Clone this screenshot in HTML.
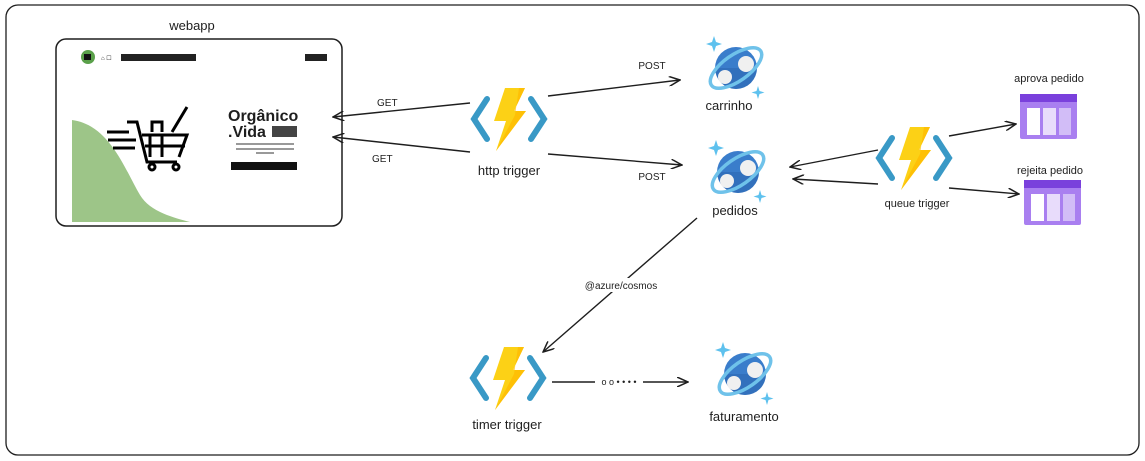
<!DOCTYPE html>
<html><head><meta charset="utf-8"><style>
html,body{margin:0;padding:0;background:#fff;width:1145px;height:461px;overflow:hidden}
svg{display:block}
text{font-family:"Liberation Sans",sans-serif;fill:#1e1e1e}
</style></head><body>
<svg width="1145" height="461" viewBox="0 0 1145 461">
<defs>
<marker id="ah" markerWidth="12" markerHeight="10" refX="11" refY="5" orient="auto" markerUnits="userSpaceOnUse">
<path d="M0,0 L11,5 L0,10" fill="none" stroke="#1e1e1e" stroke-width="1.5"/></marker>
<g id="fn">
<path d="M-22,-20 L-35,0 L-22,20" fill="none" stroke="#3999c6" stroke-width="6" stroke-linecap="round"/>
<path d="M22,-20 L35,0 L22,20" fill="none" stroke="#3999c6" stroke-width="6" stroke-linecap="round"/>
<path d="M-4,-31 L16,-31 L5,-8 L17,-8 L-13,32 L-3,2 L-15,2 Z" fill="#fcd116"/>
<path d="M10,-31 L16,-31 L5,-8 L17,-8 L-13,32 L6,-4 Z" fill="#ffb900" opacity="0.7"/>
</g>
<g id="cos">
<circle cx="0" cy="0" r="21" fill="#3a7dcb"/>
<path d="M-21,0 A21,21 0 0 0 21,0 Z" fill="#2a64ad" opacity="0.5"/>
<circle cx="10" cy="-4" r="8" fill="#f0f0f0"/>
<circle cx="-11" cy="9" r="7" fill="#f0f0f0"/>
<ellipse cx="0" cy="0" rx="30" ry="13" transform="rotate(-35)" fill="none" stroke="#6fc2ea" stroke-width="3.5"/>
<path d="M-22,-32 l2,6 6,2 -6,2 -2,6 -2,-6 -6,-2 6,-2z" fill="#5ec1ee"/>
<path d="M22,18 l1.5,5 5,1.5 -5,1.5 -1.5,5 -1.5,-5 -5,-1.5 5,-1.5z" fill="#5ec1ee"/>
</g>
<g id="q">
<rect x="0" y="0" width="57" height="45" rx="2" fill="#a97ff0"/>
<rect x="0" y="0" width="57" height="8" fill="#7a40dc"/>
<rect x="7" y="14" width="13" height="27" fill="#fff"/>
<rect x="23" y="14" width="13" height="27" fill="#e8dcfb"/>
<rect x="39" y="14" width="12" height="27" fill="#d2bdf7"/>
</g>
</defs>
<rect x="6" y="5" width="1133" height="450" rx="12" fill="none" stroke="#1e1e1e" stroke-width="1.3"/>

<text x="192" y="30" font-size="13" text-anchor="middle">webapp</text>
<rect x="56" y="39" width="286" height="187" rx="10" fill="#fff" stroke="#1e1e1e" stroke-width="1.5"/>
<path d="M72,120 C110,125 125,170 140,195 C150,212 175,218 190,222 L72,222 Z" fill="#9dc588"/>
<circle cx="88" cy="57" r="7" fill="#5aa04a"/><rect x="84" y="54" width="7" height="6" fill="#111"/>
<rect x="121" y="54" width="75" height="7" fill="#222"/>
<rect x="305" y="54" width="22" height="7" fill="#222"/>
<text x="101" y="60" font-size="6">⌂ ☐</text>
<g fill="none" stroke="#000" stroke-width="3">
<path d="M107,132 h22 M108,140 h28 M113,148 h22"/>
<path d="M127,122 h10 l10,40 h30 M142,135 h45 l-8,22 M150,135 v22 M162,135 v22 M145,146 h40"/>
<circle cx="152" cy="167" r="3"/><circle cx="176" cy="167" r="3"/>
<path d="M152,132 v-10 h10 v10 M172,132 l15,-25"/>
</g>
<text x="228" y="121" font-size="16" font-weight="bold" fill="#000">Orgânico</text>
<text x="228" y="137" font-size="16" font-weight="bold" fill="#000">.Vida</text>
<rect x="272" y="126" width="25" height="11" fill="#444"/>
<rect x="236" y="143" width="58" height="2" fill="#999"/><rect x="236" y="148" width="58" height="2" fill="#999"/><rect x="256" y="152" width="18" height="2" fill="#999"/>
<rect x="231" y="162" width="66" height="8" fill="#111"/>

<g stroke="#1e1e1e" stroke-width="1.4" fill="none">
<path d="M470,103 L333,117" marker-end="url(#ah)"/>
<path d="M470,152 L333,137" marker-end="url(#ah)"/>
<path d="M548,96 L680,80" marker-end="url(#ah)"/>
<path d="M548,154 L682,165" marker-end="url(#ah)"/>
<path d="M878,150 L790,167" marker-end="url(#ah)"/>
<path d="M878,184 L793,179" marker-end="url(#ah)"/>
<path d="M949,136 L1016,124" marker-end="url(#ah)"/>
<path d="M949,188 L1019,194" marker-end="url(#ah)"/>
<path d="M697,218 L543,352" marker-end="url(#ah)"/>
<path d="M552,382 L595,382 M643,382 L688,382" marker-end="url(#ah)"/>
</g>
<text x="377" y="106" font-size="10">GET</text>
<text x="372" y="162" font-size="10">GET</text>
<text x="652" y="69" font-size="10" text-anchor="middle">POST</text>
<text x="652" y="180" font-size="10" text-anchor="middle">POST</text>
<rect x="578" y="278" width="86" height="14" fill="#fff"/>
<text x="621" y="289" font-size="10" text-anchor="middle">@azure/cosmos</text>
<text x="619" y="385" font-size="9" text-anchor="middle">o o • • • •</text>

<use href="#fn" x="509" y="119"/>
<use href="#fn" x="914" y="158"/>
<use href="#fn" x="508" y="378"/>
<use href="#cos" x="736" y="68"/>
<use href="#cos" x="738" y="172"/>
<use href="#cos" x="745" y="374"/>
<use href="#q" x="1020" y="94"/>
<use href="#q" x="1024" y="180"/>

<text x="509" y="175" font-size="13" text-anchor="middle">http trigger</text>
<text x="917" y="207" font-size="11" text-anchor="middle">queue trigger</text>
<text x="507" y="429" font-size="13" text-anchor="middle">timer trigger</text>
<text x="729" y="110" font-size="13" text-anchor="middle">carrinho</text>
<text x="735" y="215" font-size="13" text-anchor="middle">pedidos</text>
<text x="744" y="421" font-size="13" text-anchor="middle">faturamento</text>
<text x="1049" y="82" font-size="11" text-anchor="middle">aprova pedido</text>
<text x="1050" y="174" font-size="11" text-anchor="middle">rejeita pedido</text>
</svg>
</body></html>
